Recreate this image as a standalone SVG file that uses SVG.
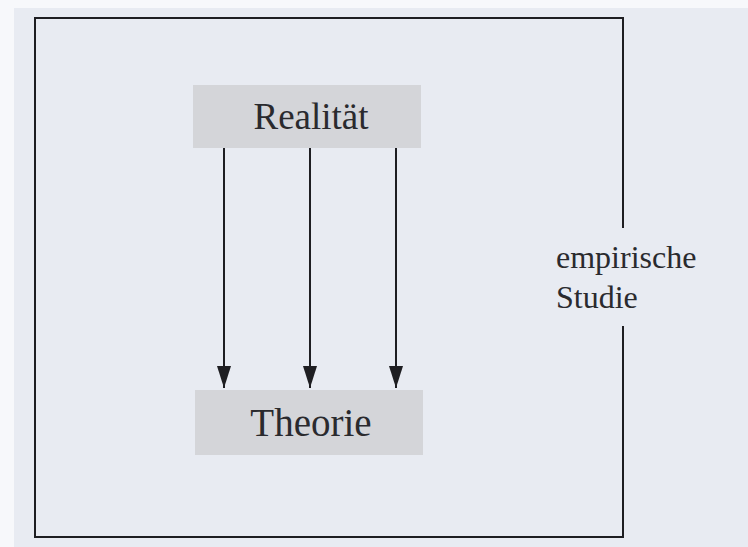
<svg xmlns="http://www.w3.org/2000/svg" width="748" height="547" viewBox="0 0 748 547">
<defs>
<style>
.box{fill:#d4d5d9;}
.lbl{font-family:"Liberation Serif","DejaVu Serif",serif;fill:#2a2a2e;}
.frame{stroke:#1e1e22;stroke-width:2;fill:none;}
.conn{stroke:#1e1e22;stroke-width:2;fill:none;marker-end:url(#ah);}
</style>
<marker id="ah" viewBox="0 0 22 14" refX="22" refY="7" markerWidth="22" markerHeight="14" markerUnits="userSpaceOnUse" orient="auto">
<path d="M0,0 L22,7 L0,14 Z" fill="#1e1e22"/>
</marker>
</defs>
<rect x="0" y="0" width="748" height="547" fill="#e8ebf2"/>
<rect x="0" y="0" width="748" height="8" fill="#f7f8fb"/>
<rect x="0" y="0" width="14" height="547" fill="#f7f8fb"/>
<g id="frame">
<path class="frame" d="M623,228 L623,18 L35,18 L35,537 L623,537 L623,326"/>
</g>
<g id="realitaet">
<rect class="box" x="193" y="85" width="228" height="63"/>
<text class="lbl" x="311" y="129" font-size="37" text-anchor="middle">Realität</text>
</g>
<g id="theorie">
<rect class="box" x="195" y="390" width="228" height="65"/>
<text class="lbl" x="311" y="436" font-size="39" text-anchor="middle">Theorie</text>
</g>
<g id="empirische-studie">
<text class="lbl" x="556" y="268" font-size="32">empirische</text>
<text class="lbl" x="556" y="308" font-size="32">Studie</text>
</g>
<g id="connectors">
<line class="conn" x1="224" y1="148" x2="224" y2="388"/>
<line class="conn" x1="310" y1="148" x2="310" y2="388"/>
<line class="conn" x1="396" y1="148" x2="396" y2="388"/>
</g>
</svg>
